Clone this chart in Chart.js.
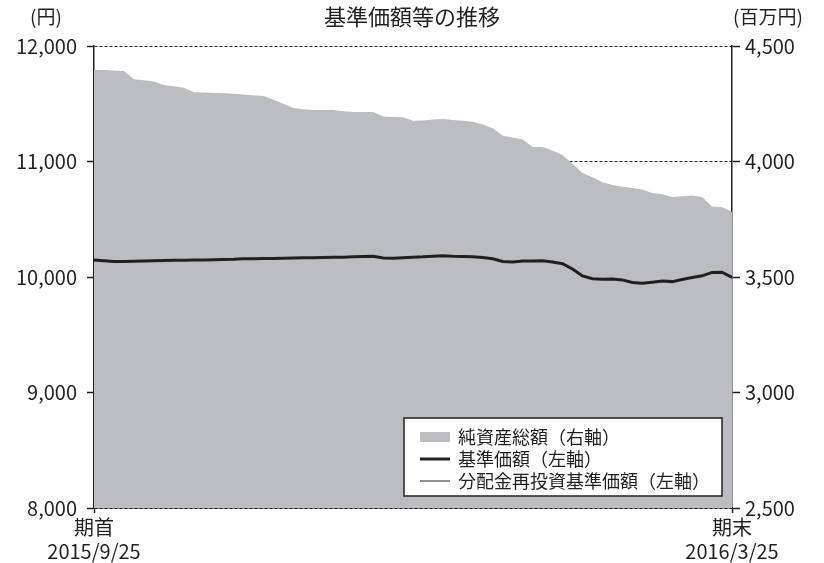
<!DOCTYPE html>
<html>
<head>
<meta charset="utf-8">
<script src="https://cdn.jsdelivr.net/npm/chart.js@4.4.1/dist/chart.umd.min.js"></script>
<style>
  html, body { margin: 0; padding: 0; background: #fff; }
  #wrap { width: 824px; height: 563px; position: relative; }
</style>
</head>
<body>
<div id="wrap"><canvas id="navChart"></canvas></div>
<script>
// 基準価額等の推移 (2015/9/25 - 2016/3/25)
const FONT = '"Noto Sans CJK JP", "Noto Sans", sans-serif';
const INK = '#231f20';

const xTickLabels = [['期首', '2015/9/25'], ['期末', '2016/3/25']];

// 純資産総額 (百万円, 右軸)
const netAssets = [
  4396, 4396, 4394, 4392, 4356, 4352, 4346, 4331, 4326, 4319,
  4300, 4299, 4297, 4295, 4293, 4290, 4287, 4284, 4268, 4250,
  4232, 4226, 4223, 4223, 4223, 4218, 4214, 4214, 4214, 4195,
  4193, 4192, 4176, 4178, 4182, 4184, 4180, 4176, 4172, 4160,
  4144, 4112, 4104, 4095, 4063, 4063, 4048, 4028, 3990, 3950,
  3932, 3910, 3898, 3891, 3885, 3879, 3864, 3858, 3846, 3850,
  3853, 3846, 3805, 3803, 3781
];

// 基準価額 (円, 左軸)
const nav = [
  10147, 10140, 10134, 10135, 10137, 10138, 10140, 10142, 10145, 10145,
  10147, 10148, 10150, 10152, 10153, 10157, 10159, 10160, 10161, 10163,
  10164, 10166, 10167, 10168, 10170, 10172, 10175, 10178, 10179, 10165,
  10163, 10167, 10172, 10175, 10180, 10184, 10180, 10178, 10176, 10168,
  10158, 10135, 10130, 10138, 10139, 10141, 10130, 10115, 10070, 10009,
  9985, 9980, 9982, 9975, 9952, 9946, 9955, 9965, 9960, 9978,
  9995, 10010, 10040, 10042, 9997
];

// 分配金再投資基準価額 (円, 左軸) - 分配なしのため基準価額と同じ
const navReinvested = [
  10147, 10140, 10134, 10135, 10137, 10138, 10140, 10142, 10145, 10145,
  10147, 10148, 10150, 10152, 10153, 10157, 10159, 10160, 10161, 10163,
  10164, 10166, 10167, 10168, 10170, 10172, 10175, 10178, 10179, 10165,
  10163, 10167, 10172, 10175, 10180, 10184, 10180, 10178, 10176, 10168,
  10158, 10135, 10130, 10138, 10139, 10141, 10130, 10115, 10070, 10009,
  9985, 9980, 9982, 9975, 9952, 9946, 9955, 9965, 9960, 9978,
  9995, 10010, 10040, 10042, 9997
];

const labels = nav.map((v, i) => i);
const lastIdx = labels.length - 1;

// タイトルと単位
const headerPlugin = {
  id: 'header',
  afterDraw(chart) {
    const ctx = chart.ctx;
    ctx.save();
    ctx.fillStyle = INK;
    ctx.textBaseline = 'middle';
    ctx.textAlign = 'center';
    ctx.font = '22px ' + FONT;
    ctx.fillText('基準価額等の推移', 412, 17);
    ctx.font = '19px ' + FONT;
    ctx.fillText('(円)', 46, 17);
    ctx.fillText('(百万円)', 768, 17);
    ctx.restore();
  }
};

// 凡例 (枠付き)
const legendBoxPlugin = {
  id: 'legendBox',
  afterDraw(chart) {
    const ctx = chart.ctx;
    const ds = chart.data.datasets;
    const box = { x: 404, y: 418, w: 318, h: 78 };
    ctx.save();
    ctx.fillStyle = '#fff';
    ctx.fillRect(box.x, box.y, box.w, box.h);
    ctx.strokeStyle = INK;
    ctx.lineWidth = 1.5;
    ctx.strokeRect(box.x, box.y, box.w, box.h);
    ctx.font = '18px ' + FONT;
    ctx.textBaseline = 'middle';
    ctx.textAlign = 'left';
    const order = [2, 0, 1];
    order.forEach((di, row) => {
      const d = ds[di];
      const cy = box.y + 19 + row * 22;
      if (d.fill) {
        ctx.fillStyle = d.backgroundColor;
        ctx.fillRect(box.x + 16, cy - 5, 30, 10);
      } else {
        ctx.strokeStyle = d.borderColor;
        ctx.lineWidth = d.borderWidth;
        ctx.beginPath();
        ctx.moveTo(box.x + 16, cy);
        ctx.lineTo(box.x + 46, cy);
        ctx.stroke();
      }
      ctx.fillStyle = INK;
      ctx.fillText(d.label, box.x + 54, cy);
    });
    ctx.restore();
  }
};

new Chart(document.getElementById('navChart'), {
  type: 'line',
  data: {
    labels: labels,
    datasets: [
      {
        label: '基準価額（左軸）',
        data: nav,
        yAxisID: 'y',
        borderColor: INK,
        borderWidth: 3,
        pointRadius: 0,
        tension: 0,
        fill: false,
        order: 2
      },
      {
        label: '分配金再投資基準価額（左軸）',
        data: navReinvested,
        yAxisID: 'y',
        borderColor: INK,
        borderWidth: 1,
        pointRadius: 0,
        tension: 0,
        fill: false,
        order: 1
      },
      {
        label: '純資産総額（右軸）',
        data: netAssets,
        yAxisID: 'y2',
        borderColor: 'rgba(0,0,0,0)',
        borderWidth: 0,
        backgroundColor: '#bcbdc0',
        pointRadius: 0,
        tension: 0,
        fill: 'start',
        order: 3
      }
    ]
  },
  options: {
    responsive: true,
    maintainAspectRatio: false,
    animation: false,
    layout: { padding: { top: 46, left: 0, right: 0, bottom: 0 } },
    plugins: {
      legend: { display: false },
      tooltip: { enabled: false },
      title: { display: false }
    },
    scales: {
      x: {
        type: 'category',
        offset: false,
        afterFit(scale) { scale.height = 55; },
        border: { display: true, color: INK, width: 1.5 },
        grid: {
          drawOnChartArea: false,
          drawTicks: true,
          tickLength: 5,
          tickColor: INK,
          tickWidth: 1.5
        },
        ticks: {
          autoSkip: false,
          maxRotation: 0,
          padding: 2,
          color: INK,
          font: { family: FONT, size: 20, lineHeight: 1.2 },
          callback(v, i) {
            if (i === 0) return xTickLabels[0];
            if (i === lastIdx) return xTickLabels[1];
            return null;
          }
        }
      },
      y: {
        position: 'left',
        min: 8000,
        max: 12000,
        afterFit(scale) { scale.width = 94; },
        border: { display: true, color: INK, width: 1.5, dash: [3, 2] },
        grid: {
          color: INK,
          lineWidth: 1,
          tickBorderDash: [],
          tickLength: 7,
          tickColor: INK,
          tickWidth: 1.5
        },
        ticks: {
          stepSize: 1000,
          padding: 10,
          color: INK,
          font: { family: FONT, size: 20 },
          callback(v) { return v.toLocaleString('en-US'); }
        }
      },
      y2: {
        position: 'right',
        min: 2500,
        max: 4500,
        afterFit(scale) { scale.width = 92; },
        border: { display: true, color: INK, width: 1.5 },
        grid: {
          drawOnChartArea: false,
          tickLength: 8,
          tickColor: INK,
          tickWidth: 1.5
        },
        ticks: {
          stepSize: 500,
          padding: 5,
          color: INK,
          font: { family: FONT, size: 20 },
          callback(v) { return v.toLocaleString('en-US'); }
        }
      }
    }
  },
  plugins: [headerPlugin, legendBoxPlugin]
});
</script>
</body>
</html>
